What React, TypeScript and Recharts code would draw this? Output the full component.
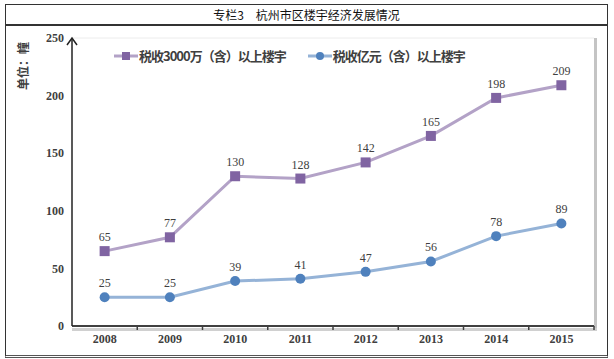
import React from 'react';
import { LineChart, Line, XAxis, YAxis, CartesianGrid, LabelList } from 'recharts';

const years = ['2008', '2009', '2010', '2011', '2012', '2013', '2014', '2015'];
const over3000wan = [65, 77, 130, 128, 142, 165, 198, 209];
const over1yi = [25, 25, 39, 41, 47, 56, 78, 89];
const yTicks = [0, 50, 100, 150, 200, 250];
const gridTicks = [0, 10, 20, 30, 40, 50, 60, 70, 80, 90, 100, 110, 120, 130, 140, 150, 160, 170, 180, 190, 200, 210, 220, 230, 240, 250];

const title = '专栏3　杭州市区楼宇经济发展情况';
const unitLabel = '单位：幢';
const name1 = '税收3000万（含）以上楼宇';
const name2 = '税收亿元（含）以上楼宇';

const data = years.map((y, i) => ({ year: y, a: over3000wan[i], b: over1yi[i] }));

const W = 614;
const H = 359;
const PLOT_L = 72;
const PLOT_R = 594;
const PLOT_T = 38;
const PLOT_B = 326;
const band = (PLOT_R - PLOT_L) / years.length;

const serif = '"Liberation Serif", "Times New Roman", serif';
const cjk = '"Noto Sans CJK SC", "Noto Sans", sans-serif';

const XTick = (props: any) => {
  const { x, payload } = props;
  return (
    <g>
      <line x1={x + band / 2} x2={x + band / 2} y1={PLOT_B} y2={PLOT_B + 4} stroke="#404040" strokeWidth={1.5} />
      <text x={x} y={PLOT_B + 17} textAnchor="middle" fontFamily={serif} fontWeight="bold" fontSize={12} fill="#404040">
        {payload.value}
      </text>
    </g>
  );
};

const SquareDot = (props: any) => {
  const { cx, cy, index } = props;
  return <rect key={'sq' + index} x={cx - 5} y={cy - 5} width={10} height={10} fill="#8064A2" />;
};

const CircleDot = (props: any) => {
  const { cx, cy, index } = props;
  return <circle key={'ci' + index} cx={cx} cy={cy} r={5} fill="#4F81BD" />;
};

const LegendBox = () => (
  <div style={{ position: 'absolute', left: 112, top: 40, width: 360, height: 31, background: '#fff', display: 'flex', alignItems: 'center', whiteSpace: 'nowrap', fontFamily: cjk, fontWeight: 'bold', fontSize: 13, letterSpacing: -1, color: '#404040' }}>
    <svg width={24} height={12} style={{ marginLeft: 2, marginRight: 1, flex: 'none' }}>
      <line x1={0} x2={24} y1={6} y2={6} stroke="#B3A2C7" strokeWidth={3} />
      <rect x={8} y={2} width={8} height={8} fill="#8064A2" />
    </svg>
    <span>{name1}</span>
    <svg width={24} height={12} style={{ marginLeft: 22, marginRight: 1, flex: 'none' }}>
      <line x1={0} x2={24} y1={6} y2={6} stroke="#95B3D7" strokeWidth={3} />
      <circle cx={12} cy={6} r={4} fill="#4F81BD" />
    </svg>
    <span>{name2}</span>
  </div>
);

export default function App() {
  return (
    <div style={{ position: 'absolute', left: 0, top: 0, width: W, height: H, background: '#fff' }}>
      <div style={{ position: 'absolute', left: 5, top: 4, width: 601, height: 350, border: '1.5px solid #333', borderBottom: '3px double #555' }} />
      <div style={{ position: 'absolute', left: 5, top: 24, width: 603, height: 1.5, background: '#333' }} />
      <div style={{ position: 'absolute', left: 5, top: 5, width: 603, height: 19, textAlign: 'center', lineHeight: '19px', fontFamily: cjk, fontSize: 12, color: '#111' }}>
        {title}
      </div>
      <div style={{ position: 'absolute', left: PLOT_R, top: PLOT_T, width: 3, height: PLOT_B - PLOT_T + 5, background: '#c4c4c4' }} />
      <div style={{ position: 'absolute', left: PLOT_L, top: PLOT_B + 2, width: PLOT_R - PLOT_L + 3, height: 3, background: '#d0d0d0' }} />
      <div style={{ position: 'absolute', left: 0, top: 0 }}>
        <LineChart width={W} height={H} data={data} margin={{ top: PLOT_T, right: W - PLOT_R, left: 0, bottom: 0 }}>
          <YAxis yAxisId="grid" hide domain={[0, 250]} ticks={gridTicks} />
          <CartesianGrid yAxisId="grid" vertical={false} stroke="#ececec" strokeWidth={1} />
          <XAxis
            dataKey="year"
            axisLine={{ stroke: '#404040', strokeWidth: 2 }}
            tickLine={false}
            tick={<XTick />}
            interval={0}
            height={H - PLOT_B}
            padding={{ left: band / 2, right: band / 2 }}
          />
          <YAxis
            domain={[0, 250]}
            ticks={yTicks}
            width={PLOT_L}
            axisLine={{ stroke: '#222', strokeWidth: 1.5 }}
            tickLine={false}
            tick={{ fontFamily: serif, fontWeight: 'bold', fontSize: 12, fill: '#404040' }}
          />
          <Line
            dataKey="a"
            name={name1}
            stroke="#B3A2C7"
            strokeWidth={3}
            dot={SquareDot}
            activeDot={false}
            isAnimationActive={false}
          >
            <LabelList dataKey="a" position="top" offset={10} style={{ fontFamily: serif, fontSize: 12, fill: '#404040' }} />
          </Line>
          <Line
            dataKey="b"
            name={name2}
            stroke="#95B3D7"
            strokeWidth={3}
            dot={CircleDot}
            activeDot={false}
            isAnimationActive={false}
          >
            <LabelList dataKey="b" position="top" offset={10} style={{ fontFamily: serif, fontSize: 12, fill: '#404040' }} />
          </Line>
        </LineChart>
      </div>
      <LegendBox />
      <svg style={{ position: 'absolute', left: 0, top: 0 }} width={W} height={H}>
        <polyline points={`${PLOT_L - 5},${PLOT_T + 7} ${PLOT_L},${PLOT_T} ${PLOT_L + 5},${PLOT_T + 7}`} fill="none" stroke="#222" strokeWidth={1.5} />
        <text
          transform={`translate(28, 66) rotate(-90)`}
          textAnchor="middle"
          fontFamily={cjk}
          fontWeight="bold"
          fontSize={12}
          fill="#404040"
        >
          {unitLabel}
        </text>
      </svg>
    </div>
  );
}
